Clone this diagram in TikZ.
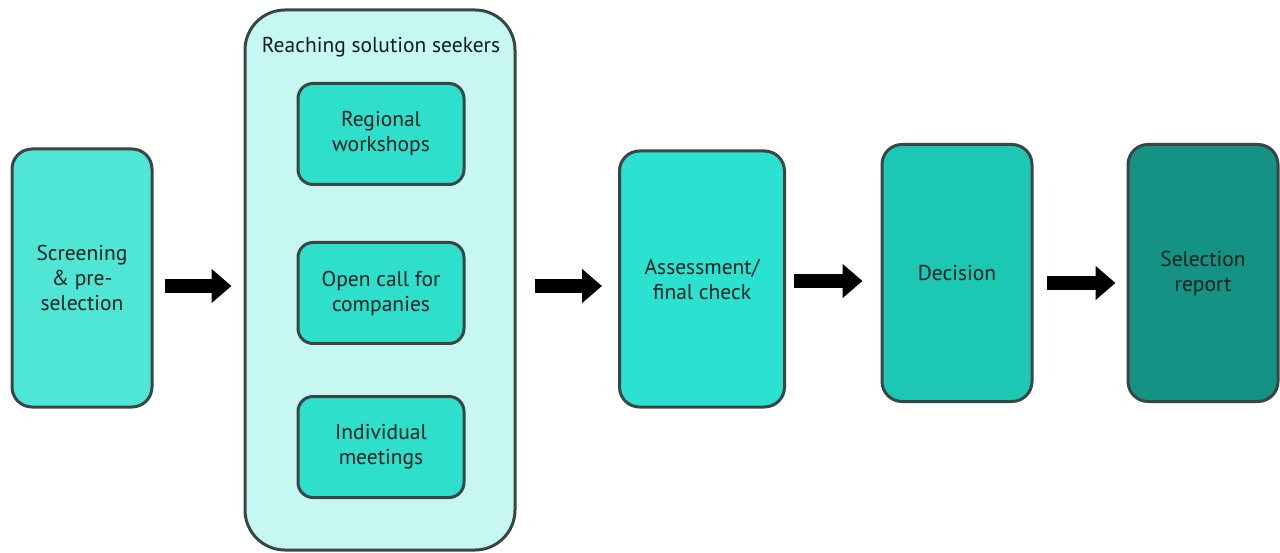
\documentclass[tikz,border=0pt]{standalone}
\usepackage{fontspec}
\setsansfont{PT Sans}
\usetikzlibrary{arrows.meta,calc}
\definecolor{bordc}{HTML}{3A4646}
\definecolor{txtc}{HTML}{0C2020}
\definecolor{screenc}{HTML}{50E6D6}
\definecolor{contc}{HTML}{C6F7F1}
\definecolor{innerc}{HTML}{2EE0CC}
\definecolor{assessc}{HTML}{2AE2CF}
\definecolor{decc}{HTML}{1CC8B4}
\definecolor{selc}{HTML}{149283}
\tikzset{
  labelfont/.style={font=\sffamily\fontsize{21.5}{25}\selectfont},
  stagebox/.style={draw=bordc, line width=3pt, rounded corners=20pt, inner sep=0pt,
    align=center, text=txtc, labelfont},
  innerbox/.style={stagebox, fill=innerc, rounded corners=15pt, minimum width=166pt, minimum height=101pt},
  flowarrow/.style={draw=black, line width=14pt, -{Triangle[length=20pt,width=33pt]}},
}
\begin{document}
\begin{tikzpicture}[x=1pt,y=-1pt]
\useasboundingbox[fill=white] (0,0) rectangle (1280,553);
\node[stagebox, fill=screenc, minimum width=140pt, minimum height=258pt] (s) at (82,278) {Screening\\\& pre-\\selection};
\node[stagebox, fill=contc, rounded corners=40pt, minimum width=270pt, minimum height=540pt] (c) at (380,280) {};
\node[text=txtc, labelfont, inner sep=0pt] (ct) at (381,47) {Reaching solution seekers};
\node[innerbox] (rw) at (381,134) {Regional\\workshops};
\node[innerbox] (oc) at (381,293) {Open call for\\companies};
\node[innerbox] (im) at (381,447) {Individual\\meetings};
\node[stagebox, fill=assessc, minimum width=165pt, minimum height=256pt] (a) at (702,279) {Assessment/\\final check};
\node[stagebox, fill=decc, minimum width=150pt, minimum height=257pt] (d) at (957,273) {Decision};
\node[stagebox, fill=selc, minimum width=150pt, minimum height=257pt] (r) at (1203,273) {Selection\\report};
\coordinate (a1) at ([xshift=11pt,yshift=-8pt]s.east);
\coordinate (a2) at ([xshift=18pt,yshift=-6pt]c.east);
\coordinate (a3) at ([xshift=8pt,yshift=-2pt]a.east);
\coordinate (a4) at ([xshift=13pt,yshift=-10pt]d.east);
\draw[flowarrow] (a1) -- ($(a1 -| c.west)+(-12,0)$);
\draw[flowarrow] (a2) -- ($(a2 -| a.west)+(-16,0)$);
\draw[flowarrow] (a3) -- ($(a3 -| d.west)+(-18,0)$);
\draw[flowarrow] (a4) -- ($(a4 -| r.west)+(-11,0)$);
\end{tikzpicture}
\end{document}
